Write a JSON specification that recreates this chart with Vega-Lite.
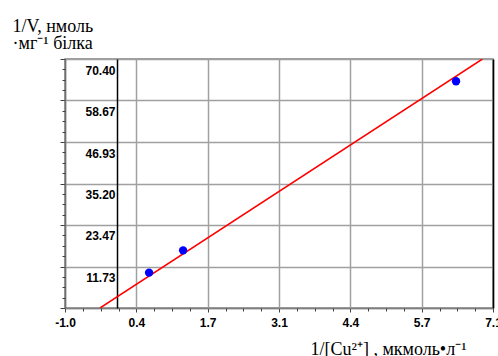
{
  "$schema": "https://vega.github.io/schema/vega-lite/v6.json",
  "autosize": "none",
  "width": 428,
  "height": 249,
  "padding": {"left": 65, "top": 59, "right": 5, "bottom": 48},
  "background": "white",
  "config": {
    "view": {"stroke": "#808080", "strokeWidth": 1.5},
    "axis": {
      "labelFont": "Liberation Sans",
      "labelFontWeight": "bold",
      "labelFontSize": 12,
      "labelColor": "black",
      "labelFlush": false,
      "labelOverlap": false,
      "titleFont": "Liberation Serif",
      "titleFontWeight": "normal",
      "titleFontSize": 18,
      "titleColor": "black"
    }
  },
  "datasets": {
    "pts": [
      {"x": 0.591, "y": 10.0},
      {"x": 1.235, "y": 16.3},
      {"x": 6.40, "y": 64.1}
    ],
    "fit": [
      {"x": -0.337, "y": 0},
      {"x": 6.90, "y": 70.4}
    ]
  },
  "resolve": {"axis": {"x": "independent", "y": "independent"}},
  "layer": [
    {
      "data": {"name": "pts"},
      "mark": {"type": "point", "filled": true, "opacity": 0, "size": 45},
      "encoding": {
        "x": {"field": "x", "type": "quantitative",
          "scale": {"domain": [-1, 7.1], "nice": false, "zero": false},
          "axis": {"orient": "bottom", "values": [-1, 0.35, 1.7, 3.05, 4.4, 5.75, 7.1],
            "labelExpr": "datum.value < -0.5 ? '-1.0' : datum.value < 1 ? '0.4' : datum.value < 2 ? '1.7' : datum.value < 3.5 ? '3.1' : datum.value < 5 ? '4.4' : datum.value < 6 ? '5.7' : '7.1'",
            "grid": true, "gridColor": "#a0a0a0", "gridWidth": 1.5, "gridOpacity": 1,
            "domain": true, "domainColor": "#808080", "domainWidth": 1.5,
            "ticks": true, "tickSize": 4, "tickColor": "#404040", "tickWidth": 1,
            "labelPadding": 5,
            "title": "1/[Cu²⁺] , мкмоль•л⁻¹",
            "titleAlign": "left", "titleAnchor": "start", "titleBaseline": "alphabetic",
            "titleX": 245, "titleY": 46}},
        "y": {"field": "y", "type": "quantitative",
          "scale": {"domain": [0, 70.4], "nice": false, "zero": false},
          "axis": {"orient": "left", "values": [0, 11.7333, 23.4667, 35.2, 46.9333, 58.6667, 70.4],
            "grid": true, "gridColor": "#a0a0a0", "gridWidth": 1.5, "gridOpacity": 1,
            "domain": true, "domainColor": "#707070", "domainWidth": 1.5,
            "ticks": true, "tickSize": 5, "tickColor": "#404040", "tickWidth": 1,
            "labels": false,
            "title": ["1/V, нмоль", "·мг⁻¹ білка"],
            "titleAngle": 0, "titleAlign": "left", "titleAnchor": "start", "titleBaseline": "top",
            "titleLineHeight": 17.5,
            "titleX": -53, "titleY": -42}}
      }
    },
    {
      "data": {"name": "fit"},
      "mark": {"type": "line", "color": "#ff0000", "strokeWidth": 1.5, "clip": true},
      "encoding": {
        "x": {"field": "x", "type": "quantitative",
          "scale": {"domain": [-1, 7.1], "nice": false, "zero": false},
          "axis": {"orient": "bottom", "values": [-0.6625, -0.325, 0.0125, 0.6875, 1.025, 1.3625, 2.0375, 2.375, 2.7125, 3.3875, 3.725, 4.0625, 4.7375, 5.075, 5.4125, 6.0875, 6.425, 6.7625],
            "grid": false, "domain": false, "labels": false, "title": null,
            "ticks": true, "tickSize": 3, "tickColor": "#404040", "tickWidth": 1}},
        "y": {"field": "y", "type": "quantitative",
          "scale": {"domain": [0, 70.4], "nice": false, "zero": false},
          "axis": {"orient": "left", "offset": -52,
            "values": [11.7333, 23.4667, 35.2, 46.9333, 58.6667, 70.4],
            "format": ".2f",
            "grid": false, "domain": true, "domainColor": "black", "domainWidth": 1.5,
            "ticks": false, "tickSize": 0, "labelPadding": 2,
            "labelBaseline": "middle", "labelOffset": 11, "title": null}}
      }
    },
    {
      "data": {"name": "pts"},
      "mark": {"type": "point", "filled": true, "color": "#0000ff", "opacity": 1, "size": 70},
      "encoding": {
        "x": {"field": "x", "type": "quantitative",
          "scale": {"domain": [-1, 7.1], "nice": false, "zero": false},
          "axis": null},
        "y": {"field": "y", "type": "quantitative",
          "scale": {"domain": [0, 70.4], "nice": false, "zero": false},
          "axis": {"orient": "left",
            "values": [2.9333, 5.8667, 8.8, 14.6667, 17.6, 20.5333, 26.4, 29.3333, 32.2667, 38.1333, 41.0667, 44, 49.8667, 52.8, 55.7333, 61.6, 64.5333, 67.4667],
            "grid": false, "domain": false, "labels": false, "title": null,
            "ticks": true, "tickSize": 3, "tickColor": "#404040", "tickWidth": 1}}
      }
    },
    {
      "data": {"name": "fit"},
      "mark": {"type": "point", "opacity": 0},
      "encoding": {
        "x": {"field": "x", "type": "quantitative",
          "scale": {"domain": [-1, 7.1], "nice": false, "zero": false},
          "axis": null},
        "y": {"field": "y", "type": "quantitative",
          "scale": {"domain": [0, 70.4], "nice": false, "zero": false},
          "axis": {"orient": "right", "values": [],
            "grid": false, "domain": true, "domainColor": "black", "domainWidth": 1.5,
            "labels": false, "ticks": false, "title": null}}
      }
    }
  ]
}
